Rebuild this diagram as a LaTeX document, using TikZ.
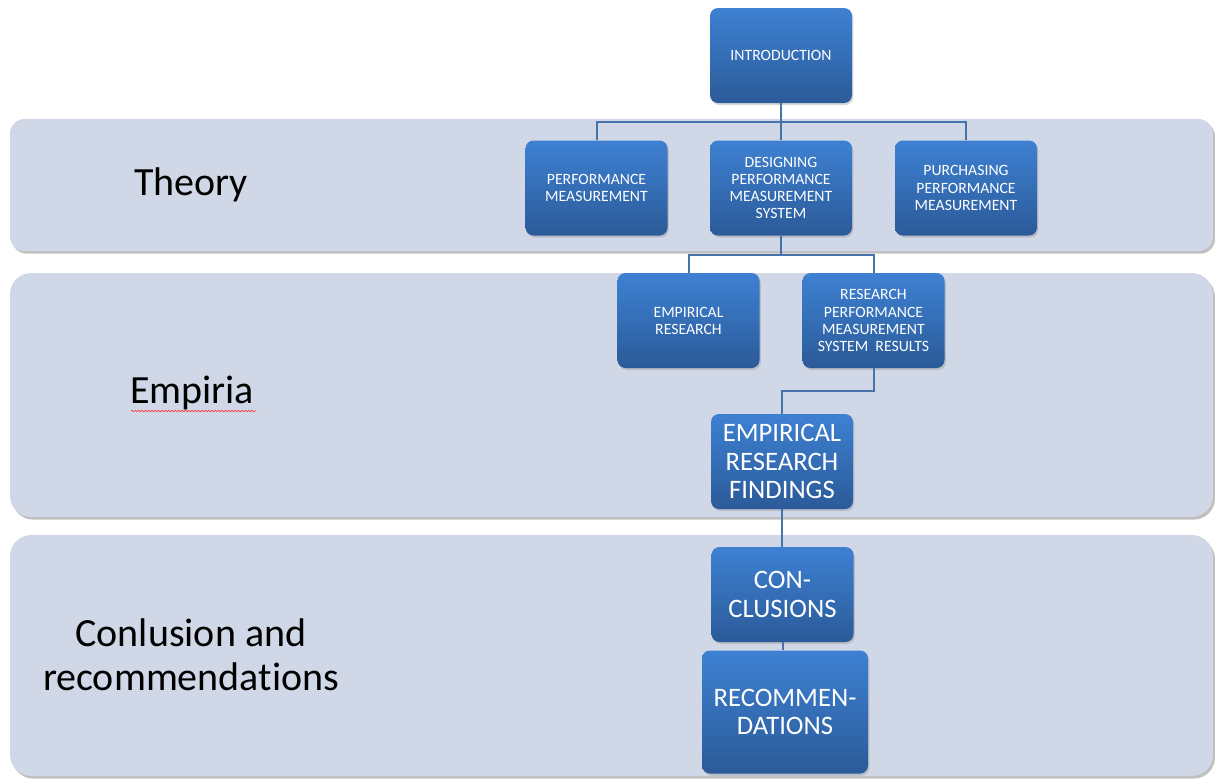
\documentclass[tikz,border=0pt]{standalone}
\usepackage{fontspec}
\setmainfont{Carlito}[Ligatures=NoCommon]
\usetikzlibrary{shadows,decorations.pathmorphing}
\definecolor{bandfill}{RGB}{208,215,230}
\definecolor{boxtop}{RGB}{62,128,210}
\definecolor{boxmid}{RGB}{52,110,182}
\definecolor{boxbot}{RGB}{43,90,152}
\definecolor{linkblue}{RGB}{70,115,170}
\tikzset{
  band/.style={fill=bandfill, draw=none,
    drop shadow={shadow xshift=1.5pt, shadow yshift=-2pt, opacity=0.35, fill=black!70}},
  box/.style={rectangle, rounded corners=6pt, draw=none,
    top color=boxtop, bottom color=boxbot, middle color=boxmid,
    text=white, align=center, inner sep=1pt,
    minimum width=106.5pt, minimum height=71.25pt,
    font=\fontsize{11.8}{12.8}\selectfont,
    drop shadow={shadow xshift=1pt, shadow yshift=-1.5pt, opacity=0.3}},
  bigbox/.style={box, font=\fontsize{20}{21.5}\selectfont},
  conn/.style={draw=linkblue, line width=1.5pt},
  bandlabel/.style={text=black, align=center, font=\fontsize{30}{33}\selectfont}
}
\begin{document}
\begin{tikzpicture}[x=0.75pt, y=-0.75pt]
\useasboundingbox[fill=white] (0,0) rectangle (1215,779);

% background bands
\fill[band, rounded corners=11pt] (10,119) rectangle (1213,251);
\fill[band, rounded corners=16pt] (10,273) rectangle (1213,517);
\fill[band, rounded corners=16pt] (10,535) rectangle (1213,776);

% band labels
\node[bandlabel] (theory) at (191,185) {Theory};
\node[bandlabel] (empiria) at (192,393) {Empiria};
\node[bandlabel] (concl-label) at (191,655) {Conlusion and\\recommendations};
\draw[red!80, line width=0.5pt, decorate,
  decoration={snake, amplitude=0.5pt, segment length=2.5pt}]
  (131,411) -- (256,411);

% boxes
\node[box] (intro) at (781,55.5) {INTRODUCTION};
\node[box] (pm) at (596.5,188) {PERFORMANCE\\MEASUREMENT};
\node[box] (dpms) at (781,188) {DESIGNING\\PERFORMANCE\\MEASUREMENT\\SYSTEM};
\node[box] (ppm) at (966,188) {PURCHASING\\PERFORMANCE\\MEASUREMENT};
\node[box] (emp) at (688.5,320.5) {EMPIRICAL\\RESEARCH};
\node[box] (rpms) at (873.5,320.5) {RESEARCH\\PERFORMANCE\\MEASUREMENT\\SYSTEM\ \ RESULTS};
\node[bigbox] (erf) at (782,461.5) {EMPIRICAL\\RESEARCH\\FINDINGS};
\node[bigbox] (concl) at (782.5,594.5) {CON-\\CLUSIONS};
\node[bigbox, minimum width=124.5pt, minimum height=92.25pt] (rec) at (785,712) {RECOMMEN-\\DATIONS};

% connectors
\draw[conn] (intro.south) -- ++(0,19) coordinate (j1);
\draw[conn] (pm.north) |- (j1) -| (ppm.north);
\draw[conn] (j1) -- (dpms.north);
\draw[conn] (dpms.south) -- ++(0,19) coordinate (j2);
\draw[conn] (emp.north) |- (j2) -| (rpms.north);
\draw[conn] (rpms.south) -- ++(0,23) -| (erf.north);
\draw[conn] (erf.south) -- (erf.south |- concl.north);
\draw[conn] (concl.south) -- (concl.south |- rec.north);
\end{tikzpicture}
\end{document}
